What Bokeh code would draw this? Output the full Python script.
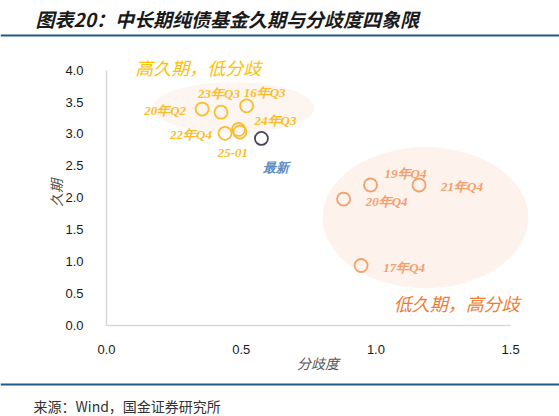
from bokeh.core.properties import value
from bokeh.embed import file_html
from bokeh.layouts import column
from bokeh.models import (ColumnDataSource, Label, PrintfTickFormatter,
                          Range1d, SingleIntervalTicker, Span)
from bokeh.plotting import figure
from bokeh.resources import INLINE

# data: dispersion (x) vs duration (y)
high_labels = ["16年Q3", "20年Q2", "23年Q3", "22年Q4", "24年Q3", "25-01"]
high_dispersion = [0.52, 0.355, 0.425, 0.44, 0.49, 0.495]
high_duration = [3.44, 3.39, 3.34, 3.01, 3.07, 3.03]

latest_labels = ["最新"]
latest_dispersion = [0.575]
latest_duration = [2.93]

low_labels = ["19年Q4", "21年Q4", "20年Q4", "17年Q4"]
low_dispersion = [0.98, 1.16, 0.88, 0.945]
low_duration = [2.20, 2.20, 1.98, 0.94]

# label offsets in pixels (layout only)
high_dx = [18, -37, -2, -34, 37, -7]
high_dy = [-13, 1, -19, 1, -9, 21]
latest_dx = [15]
latest_dy = [29]
low_dx = [35, 43, 43, 43]
low_dy = [-12, 1, 2, 2]

GOLD = "#F9BD2E"
ORANGE = "#F2A06C"
DARK = "#454857"
BLUE_RULE = "#1F5A8A"
W = 559

LABEL_FONT = value("Liberation Serif")


def bare(height):
    # pixel-sized canvas for title / source rows, not aligned to the chart frame
    f = figure(width=W, height=height, x_range=Range1d(0, W),
               y_range=Range1d(0, height), output_backend="svg",
               toolbar_location=None, x_axis_location=None,
               y_axis_location=None, min_border=0, frame_align=False)
    f.outline_line_color = None
    f.grid.visible = False
    return f


# header with title and rule
header = bare(40)
header.add_layout(Label(x=35, y=22, text="图表20：中长期纯债基金久期与分歧度四象限",
                        text_font="Noto Sans CJK SC", text_font_style="bold italic",
                        text_font_size="19px", text_color="#1a1a1a",
                        text_baseline="middle"))
header.add_layout(Span(location=5, dimension="width",
                       line_color=BLUE_RULE, line_width=2))

# main scatter
p = figure(width=W, height=338, x_range=Range1d(0, 1.57),
           y_range=Range1d(0, 4.15), output_backend="svg",
           toolbar_location=None, min_border_left=106, min_border_right=30,
           min_border_top=20, min_border_bottom=53, frame_align=False)
p.outline_line_color = None
p.grid.visible = False

p.ellipse(x=[0.471], y=[3.41], width=[0.60], height=[0.80],
          fill_color="#FDF5F0", line_color=None)
p.ellipse(x=[1.184], y=[1.69], width=[0.764], height=[2.21],
          fill_color="#FDF2EC", line_color=None)

high_src = ColumnDataSource(dict(x=high_dispersion, y=high_duration,
                                 label=high_labels, dx=high_dx, dy=high_dy))
latest_src = ColumnDataSource(dict(x=latest_dispersion, y=latest_duration,
                                   label=latest_labels, dx=latest_dx,
                                   dy=latest_dy))
low_src = ColumnDataSource(dict(x=low_dispersion, y=low_duration,
                                label=low_labels, dx=low_dx, dy=low_dy))

for src, mark_color, text_color in [(high_src, GOLD, GOLD),
                                    (low_src, ORANGE, ORANGE),
                                    (latest_src, DARK, "#5B8CC6")]:
    p.scatter("x", "y", source=src, marker="circle", size=13,
              fill_color=None, line_color=mark_color, line_width=1.8)
    p.text("x", "y", text="label", source=src, x_offset="dx", y_offset="dy",
           text_font=LABEL_FONT, text_font_style="bold italic",
           text_font_size="13px", text_color=text_color,
           text_align="center", text_baseline="middle")

p.add_layout(Label(x=0.341, y=4.05, text="高久期，低分歧",
                   text_font="Noto Sans CJK SC", text_font_style="italic",
                   text_font_size="18px", text_color="#FFC000",
                   text_align="center", text_baseline="middle"))
p.add_layout(Label(x=1.30, y=0.36, text="低久期，高分歧",
                   text_font="Noto Sans CJK SC", text_font_style="italic",
                   text_font_size="18px", text_color="#ED7D31",
                   text_align="center", text_baseline="middle"))

p.xaxis.bounds = (0, 1.5)
p.yaxis.bounds = (0, 4)
p.xaxis.ticker = SingleIntervalTicker(interval=0.5)
p.yaxis.ticker = SingleIntervalTicker(interval=0.5)
p.axis.formatter = PrintfTickFormatter(format="%.1f")
p.axis.axis_line_color = "#D9D9D9"
p.axis.axis_line_width = 1.5
p.axis.major_tick_line_color = None
p.axis.minor_tick_line_color = None
p.axis.major_tick_out = 0
p.axis.major_label_text_font = "Liberation Sans"
p.axis.major_label_text_font_size = "13px"
p.axis.major_label_text_color = "#1a1a1a"
p.xaxis.major_label_standoff = 15
p.yaxis.major_label_standoff = 19
p.xaxis.axis_label = "分歧度"
p.yaxis.axis_label = "久期"
p.axis.axis_label_text_font = "Noto Sans CJK SC"
p.axis.axis_label_text_font_style = "italic"
p.axis.axis_label_text_font_size = "14px"
p.axis.axis_label_text_color = "#555555"
p.xaxis.axis_label_standoff = -4
p.yaxis.axis_label_standoff = -4

# footer with rule and source
footer = bare(38)
footer.add_layout(Span(location=32, dimension="width",
                       line_color=BLUE_RULE, line_width=2))
footer.add_layout(Label(x=33, y=11, text="来源：Wind，国金证券研究所",
                        text_font="Noto Sans CJK SC", text_font_size="14px",
                        text_color="#333333", text_baseline="middle"))

layout = column(header, p, footer, spacing=0)
open("out.html", "w").write(file_html(layout, INLINE))
